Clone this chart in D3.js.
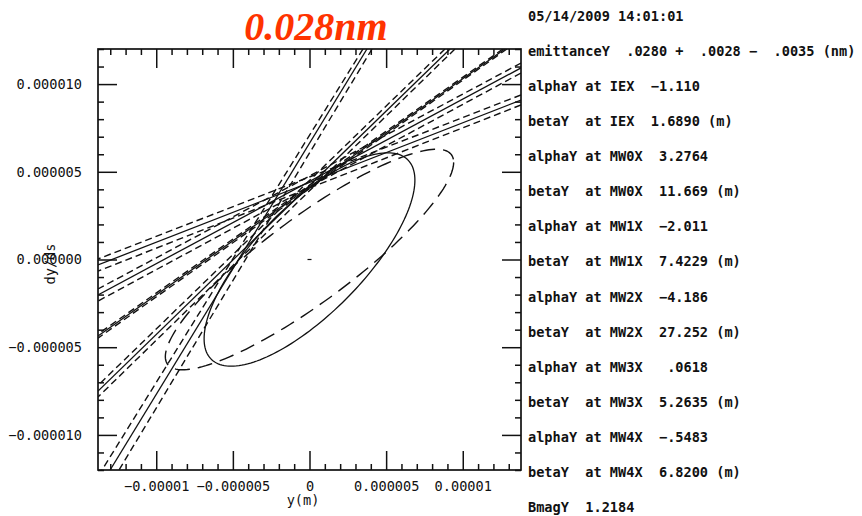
<html>
<head>
<script src="https://d3js.org/d3.v7.min.js"></script>
<style>
body { margin: 0; background: #fff; }
svg { font-family: "DejaVu Sans Mono", monospace; }
.axis path { stroke: none; }
.axis line { stroke: #111; stroke-width: 1.5; }
.axis text { font-family: "DejaVu Sans Mono", monospace; font-size: 13.6px; fill: #111; }
.info { font-size: 13.6px; fill: #111; white-space: pre; font-weight: bold; }
.solid { fill: none; stroke: #111; stroke-width: 1.3; }
.dash { fill: none; stroke: #111; stroke-width: 1.4; stroke-dasharray: 7,4; }
</style>
</head>
<body>
<div id="chart"></div>
<script>
// phase space coordinates are in units of 1e-6 (m, rad)
var xTicks = [-10, -5, 0, 5, 10];
var xTickLabels = ["−0.00001", "−0.000005", "0", "0.000005", "0.00001"];
var yTicks = [10, 5, 0, -5, -10];
var yTickLabels = ["0.000010", "0.000005", "0.000000", "−0.000005", "−0.000010"];

// emittance 0.028 nm -> 28 in (1e-6 m)^2
var emittance = 28;
var alphaFit = -1.110, betaFit = 1.6890;
var alphaDesign = -1.86, betaDesign = 3.16;

// wire lines: [y1, dy1, y2, dy2]
var solidLines = [
  [3.75, 12, -13.01, -12],
  [9.17, 12, -13.8, -7.50],
  [12.75, 12, -13.8, -4.36],
  [13.8, 10.92, -13.8, -2.02],
  [13.8, 9.09, -13.8, -0.31]
];
var dashUpper = [
  [3.49, 12, -13.54, -12],
  [8.84, 12, -13.8, -7.18],
  [12.62, 12, -13.8, -4.25],
  [13.8, 11.20, -13.8, -1.68],
  [13.8, 9.38, -13.8, 0.03]
];
var dashLower = [
  [4.08, 12, -12.43, -12],
  [9.49, 12, -13.8, -7.84],
  [12.88, 12, -13.8, -4.48],
  [13.8, 10.63, -13.8, -2.37],
  [13.8, 8.81, -13.8, -0.66]
];

var infoLines = [
  "05/14/2009 14:01:01",
  "emittanceY  .0280 +  .0028 −  .0035 (nm)",
  "alphaY at IEX  −1.110",
  "betaY  at IEX  1.6890 (m)",
  "alphaY at MW0X  3.2764",
  "betaY  at MW0X  11.669 (m)",
  "alphaY at MW1X  −2.011",
  "betaY  at MW1X  7.4229 (m)",
  "alphaY at MW2X  −4.186",
  "betaY  at MW2X  27.252 (m)",
  "alphaY at MW3X   .0618",
  "betaY  at MW3X  5.2635 (m)",
  "alphaY at MW4X  −.5483",
  "betaY  at MW4X  6.8200 (m)",
  "BmagY  1.2184"
];

var width = 862;
var height = 516;
var plotLeft = 98, plotRight = 521, plotTop = 49, plotBottom = 470;

/* Scale */
var xScale = d3.scaleLinear().domain([-13.8, 13.8]).range([plotLeft, plotRight]);
var yScale = d3.scaleLinear().domain([-12, 12]).range([plotBottom, plotTop]);

var svg = d3.select("#chart").append("svg")
  .attr("width", width)
  .attr("height", height);

svg.append("clipPath").attr("id", "clip")
  .append("rect")
  .attr("x", plotLeft).attr("y", plotTop)
  .attr("width", plotRight - plotLeft).attr("height", plotBottom - plotTop);

var plot = svg.append("g").attr("clip-path", "url(#clip)");

/* Wire lines */
function drawLines(data, cls) {
  plot.append("g").selectAll("line")
    .data(data).enter()
    .append("line")
    .attr("class", cls)
    .attr("x1", d => xScale(d[0]))
    .attr("y1", d => yScale(d[1]))
    .attr("x2", d => xScale(d[2]))
    .attr("y2", d => yScale(d[3]));
}
drawLines(dashUpper, "dash");
drawLines(dashLower, "dash");
drawLines(solidLines, "solid");

/* Ellipses */
function ellipse(alpha, beta) {
  return d3.range(0, 361, 2).map(function(a) {
    var t = a * Math.PI / 180;
    return [Math.sqrt(emittance * beta) * Math.cos(t),
            -Math.sqrt(emittance / beta) * (alpha * Math.cos(t) + Math.sin(t))];
  });
}
var line = d3.line().x(d => xScale(d[0])).y(d => yScale(d[1]));

plot.append("path")
  .attr("d", line(ellipse(alphaDesign, betaDesign)))
  .attr("fill", "none").attr("stroke", "#111").attr("stroke-width", 1.4)
  .attr("stroke-dasharray", "15,8");

plot.append("path")
  .attr("d", line(ellipse(alphaFit, betaFit)))
  .attr("class", "solid");

// centre mark
plot.append("line")
  .attr("x1", xScale(0) - 2).attr("x2", xScale(0) + 2)
  .attr("y1", yScale(0)).attr("y2", yScale(0))
  .attr("stroke", "#111").attr("stroke-width", 1.2);

/* Axes: ticks point inward on all sides */
var minor = d3.range(-13, 14).filter(d => d % 5 !== 0);
var minorY = d3.range(-12, 13).filter(d => d % 5 !== 0);

function addAxis(axis, transform) {
  svg.append("g").attr("class", "axis")
    .attr("transform", transform)
    .call(axis);
}

addAxis(d3.axisBottom(xScale).tickValues(xTicks)
  .tickFormat((d, i) => xTickLabels[i]).tickSizeInner(-19).tickSizeOuter(0).tickPadding(11),
  `translate(0, ${plotBottom})`);
addAxis(d3.axisBottom(xScale).tickValues(minor).tickFormat("").tickSizeInner(-6).tickSizeOuter(0),
  `translate(0, ${plotBottom})`);
addAxis(d3.axisTop(xScale).tickValues(xTicks).tickFormat("").tickSizeInner(-19).tickSizeOuter(0),
  `translate(0, ${plotTop})`);
addAxis(d3.axisTop(xScale).tickValues(minor).tickFormat("").tickSizeInner(-6).tickSizeOuter(0),
  `translate(0, ${plotTop})`);

addAxis(d3.axisLeft(yScale).tickValues(yTicks)
  .tickFormat((d, i) => yTickLabels[i]).tickSizeInner(-19).tickSizeOuter(0).tickPadding(16),
  `translate(${plotLeft}, 0)`);
addAxis(d3.axisLeft(yScale).tickValues(minorY).tickFormat("").tickSizeInner(-6).tickSizeOuter(0),
  `translate(${plotLeft}, 0)`);
addAxis(d3.axisRight(yScale).tickValues(yTicks).tickFormat("").tickSizeInner(-19).tickSizeOuter(0),
  `translate(${plotRight}, 0)`);
addAxis(d3.axisRight(yScale).tickValues(minorY).tickFormat("").tickSizeInner(-6).tickSizeOuter(0),
  `translate(${plotRight}, 0)`);

svg.append("rect")
  .attr("x", plotLeft).attr("y", plotTop)
  .attr("width", plotRight - plotLeft).attr("height", plotBottom - plotTop)
  .attr("fill", "none").attr("stroke", "#111").attr("stroke-width", 1.7);

/* Axis titles */
svg.append("text")
  .attr("x", 303).attr("y", 505)
  .attr("text-anchor", "middle")
  .style("font-size", "13.6px").attr("fill", "#111")
  .text("y(m)");

svg.append("text")
  .attr("transform", "translate(55, 264) rotate(-90)")
  .attr("text-anchor", "middle")
  .style("font-size", "13.6px").attr("fill", "#111")
  .text("dy/ds");

/* Title */
svg.append("text")
  .attr("x", 316).attr("y", 40)
  .attr("text-anchor", "middle")
  .style("font-family", "'Liberation Serif', serif")
  .style("font-weight", "bold").style("font-style", "italic")
  .style("font-size", "40px")
  .attr("fill", "#ff3300")
  .text("0.028nm");

/* Info panel */
svg.selectAll(".info")
  .data(infoLines).enter()
  .append("text")
  .attr("class", "info")
  .attr("x", 528)
  .attr("y", (d, i) => 21 + i * 35.07)
  .text(d => d);
</script>
</body>
</html>
